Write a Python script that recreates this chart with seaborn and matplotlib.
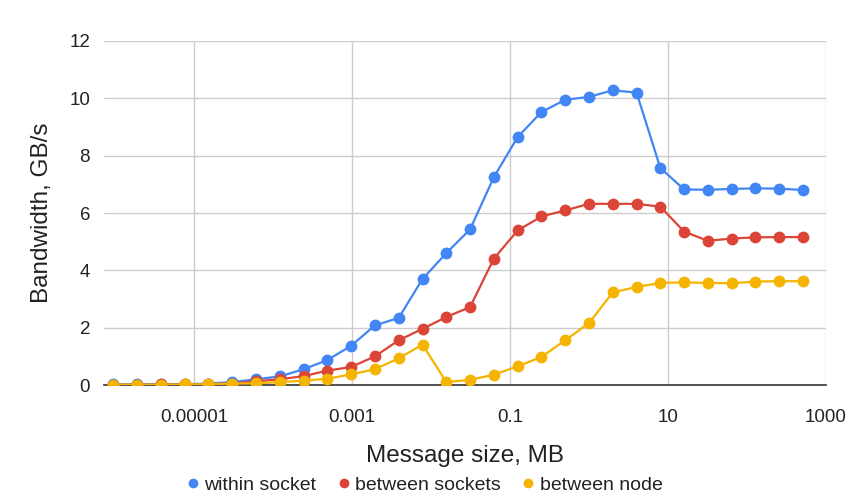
import matplotlib
matplotlib.use("Agg")
import matplotlib.pyplot as plt
from matplotlib.lines import Line2D
import seaborn as sns
import pandas as pd

# Message sizes in bytes (converted to MB below)
sizes_bytes = [1, 2, 4, 8, 16, 32, 64, 128, 256, 512, 1024, 2048, 4096, 8192,
               16384, 32768, 65536, 131072, 262144, 524288, 1048576, 2097152,
               4194304, 8388608, 16777216, 33554432, 67108864, 134217728,
               268435456, 536870912]

within_socket = [0.02, 0.02, 0.03, 0.03, 0.05, 0.10, 0.20, 0.30, 0.55, 0.87,
                 1.37, 2.08, 2.34, 3.70, 4.60, 5.43, 7.25, 8.65, 9.52, 9.95,
                 10.05, 10.28, 10.20, 7.57, 6.82, 6.81, 6.84, 6.86, 6.85, 6.80]
between_sockets = [0.01, 0.01, 0.02, 0.02, 0.03, 0.05, 0.13, 0.20, 0.31, 0.50,
                   0.63, 1.00, 1.56, 1.96, 2.37, 2.72, 4.41, 5.39, 5.88, 6.09,
                   6.32, 6.32, 6.32, 6.22, 5.35, 5.03, 5.11, 5.15, 5.16, 5.16]
between_node = [0.01, 0.01, 0.01, 0.02, 0.03, 0.05, 0.06, 0.10, 0.15, 0.22,
                0.37, 0.55, 0.93, 1.41, 0.10, 0.18, 0.36, 0.65, 0.98, 1.56,
                2.16, 3.23, 3.42, 3.56, 3.58, 3.56, 3.55, 3.61, 3.62, 3.62]

series_names = ["within socket", "between sockets", "between node"]
colors = ["#4285F4", "#DB4437", "#F4B400"]
x_tick_vals = [0.00001, 0.001, 0.1, 10, 1000]
x_tick_labels = ["0.00001", "0.001", "0.1", "10", "1000"]
y_ticks = [0, 2, 4, 6, 8, 10, 12]

sizes_mb = [b / 1048576 for b in sizes_bytes]
rows = []
for name, vals in zip(series_names, [within_socket, between_sockets, between_node]):
    for s, v in zip(sizes_mb, vals):
        rows.append({"size": s, "bw": v, "series": name})
df = pd.DataFrame(rows)

sns.set_style("white")
plt.rcParams["font.family"] = ["Liberation Sans", "DejaVu Sans"]

fig = plt.figure(figsize=(8.54, 5.01), dpi=100)
ax = fig.add_axes([104 / 854, 1 - 385 / 501, (826 - 104) / 854, (385 - 41) / 501])

sns.lineplot(data=df, x="size", y="bw", hue="series", hue_order=series_names,
             palette=colors, marker="o", markersize=8.5, markeredgewidth=0,
             linewidth=1.6, ax=ax, legend=False, zorder=3)

ax.set_xscale("log")
ax.set_xlim(7.26e-7, 1000)
ax.set_ylim(0, 12)
ax.set_xticks(x_tick_vals)
ax.set_xticklabels(x_tick_labels)
ax.minorticks_off()
ax.set_yticks(y_ticks)
ax.grid(True, color="#cccccc", linewidth=1)
ax.set_axisbelow(True)
for sp in ["top", "right", "left"]:
    ax.spines[sp].set_visible(False)
ax.spines["bottom"].set_color("#333333")
ax.spines["bottom"].set_linewidth(1.2)
ax.spines["bottom"].set_zorder(2)
ax.tick_params(axis="both", length=0, labelsize=13.5, colors="#222222")
ax.tick_params(axis="x", pad=17)
ax.tick_params(axis="y", pad=10)

ax.set_xlabel("Message size, MB", fontsize=17.5, color="#222222", labelpad=14)
ax.set_ylabel("Bandwidth, GB/s", fontsize=17.5, color="#222222", labelpad=12)

handles = [Line2D([], [], linestyle="none", marker="o", markersize=7,
                  markeredgewidth=0, color=c) for c in colors]
fig.legend(handles, series_names, loc="center", bbox_to_anchor=(423 / 854, 1 - 485 / 501),
           ncol=3, frameon=False, fontsize=14, handletextpad=0.1, columnspacing=0.9,
           handlelength=1.0, labelcolor="#222222")

fig.savefig("out.png", dpi=100)
